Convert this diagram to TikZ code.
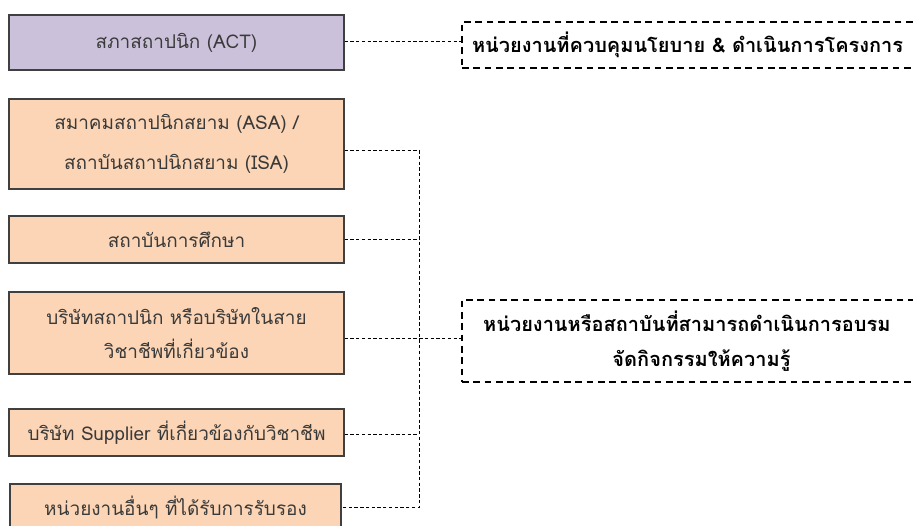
\documentclass[tikz,border=0pt]{standalone}
\usepackage{fontspec}
\newfontfamily\thaifont[Script=Thai]{Loma}
\usetikzlibrary{calc}
\definecolor{lav}{HTML}{CCC1DA}
\definecolor{peach}{HTML}{FBD5B5}
\definecolor{edge}{HTML}{404040}
\definecolor{txt}{HTML}{3A3A3A}
\tikzset{
  box/.style={draw=edge, line width=1pt, fill=peach, minimum width=251.25pt, inner sep=0pt, align=center, text=txt, font=\thaifont\fontsize{14.2}{26}\selectfont},
  rbox/.style={draw=black, line width=1.5pt, dash pattern=on 5pt off 3.5pt, inner sep=0pt, text=black, font=\thaifont\bfseries\fontsize{15}{26}\selectfont},
  conn/.style={draw=black, line width=0.6pt, dash pattern=on 2.5pt off 1.8pt},
}
\begin{document}
\begin{tikzpicture}[x=0.75pt,y=-0.75pt]
\useasboundingbox (0,0) rectangle (913,525);
\clip (0,0) rectangle (913,525);
\node[box, fill=lav, minimum height=41.25pt] (act) at (176.5,42.5) {สภาสถาปนิก (ACT)};
\node[box, minimum height=67.5pt] (asa) at (176.5,144) {สมาคมสถาปนิกสยาม (ASA) /\\[4pt]สถาบันสถาปนิกสยาม (ISA)};
\node[box, minimum height=35.25pt] (edu) at (176.5,239.5) {สถาบันการศึกษา};
\node[box, minimum height=61.5pt] (com) at (176.5,333) {บริษัทสถาปนิก หรือบริษัทในสาย\\วิชาชีพที่เกี่ยวข้อง};
\node[box, minimum height=35.25pt] (sup) at (176.5,432.5) {บริษัท Supplier ที่เกี่ยวข้องกับวิชาชีพ};
\node[box, minimum width=248.25pt, minimum height=35.25pt] (oth) at (175.5,507.5) {หน่วยงานอื่นๆ ที่ได้รับการรับรอง};
\node[rbox, minimum width=347.25pt, minimum height=34.5pt, text width=332.25pt, align=left] (r1) at (693.5,45) {หน่วยงานที่ควบคุมนโยบาย \& ดำเนินการโครงการ};
\node[rbox, minimum width=347.25pt, minimum height=61.5pt, text width=347.25pt, align=center] (r2) at (693.5,341) {\hspace*{-10pt}หน่วยงานหรือสถาบันที่สามารถดำเนินการอบรม\\\hspace*{12pt}จัดกิจกรรมให้ความรู้};
\coordinate (busx) at (419,0);
\draw[conn] (act.east |- 0,41) -- (r1.west |- 0,41);
\draw[conn] ($(asa.east)+(0,6)$) coordinate (a1) -| (busx |- oth.east) -- (oth.east);
\draw[conn] (edu.east) -- (edu.east -| busx);
\draw[conn] ($(com.east)+(0,5)$) coordinate (c1) -- (c1 -| r2.west);
\draw[conn] ($(sup.east)+(0,1.5)$) coordinate (s1) -- (s1 -| busx);
\end{tikzpicture}
\end{document}
